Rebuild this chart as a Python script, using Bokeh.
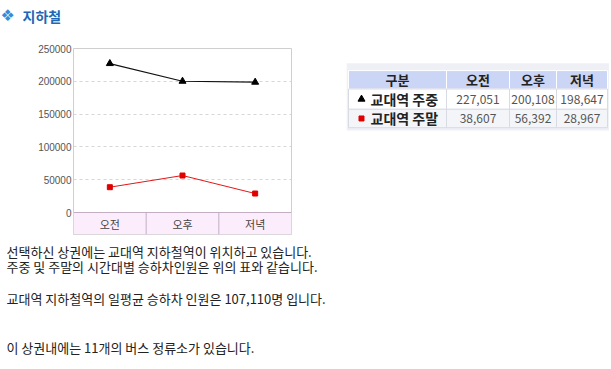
from bokeh.plotting import figure
from bokeh.layouts import column, row
from bokeh.models import Range1d, FixedTicker, BasicTickFormatter, Span
from bokeh.core.properties import value
from bokeh.embed import file_html
from bokeh.resources import INLINE

# ---- data ----
periods = ["오전", "오후", "저녁"]
weekday = [227051, 200108, 198647]
weekend = [38607, 56392, 28967]
series_names = ["교대역 주중", "교대역 주말"]
table_header = ["구분", "오전", "오후", "저녁"]
y_ticks = [0, 50000, 100000, 150000, 200000, 250000]
title_text = "지하철"
body_lines = [
    "선택하신 상권에는 교대역 지하철역이 위치하고 있습니다.",
    "주중 및 주말의 시간대별 승하차인원은 위의 표와 같습니다.",
    "교대역 지하철역의 일평균 승하차 인원은 107,110명 입니다.",
    "이 상권내에는 11개의 버스 정류소가 있습니다.",
]

FONT = "Noto Sans CJK KR"
BLACK_LINE = "#111111"
RED_LINE = "#e01818"
PAGE_W = 609


def canvas(w, h):
    f = figure(width=w, height=h, x_range=Range1d(0, w), y_range=Range1d(h, 0),
               x_axis_location=None, y_axis_location=None,
               output_backend="svg", toolbar_location=None, min_border=0)
    f.grid.visible = False
    f.outline_line_color = None
    return f


# ---- title ----
tf = canvas(PAGE_W, 38)
tf.text(x=[0], y=[15], text=["❖"], text_font=value("DejaVu Sans"), text_font_size="16px",
        text_color="#3a8ad6", text_baseline="middle", text_align="left")
tf.text(x=[22], y=[15], text=[title_text], text_font=value(FONT), text_font_size="14px",
        text_font_style="bold", text_color="#2366b4", text_baseline="middle", text_align="left")

# ---- chart ----
BAND = -33500
ch = figure(frame_width=218, frame_height=186, x_range=Range1d(0, len(periods)),
            y_range=Range1d(BAND, y_ticks[-1]), x_axis_location=None,
            min_border_left=73, min_border_right=55, min_border_top=10, min_border_bottom=6,
            output_backend="svg", toolbar_location=None)
ch.outline_line_color = "#cfcfcf"
ch.xgrid.visible = False
ch.ygrid.ticker = FixedTicker(ticks=y_ticks[1:-1])
ch.ygrid.grid_line_color = "#d6d6d6"
ch.ygrid.grid_line_dash = "3 3"
ya = ch.yaxis[0]
ya.ticker = FixedTicker(ticks=y_ticks)
ya.formatter = BasicTickFormatter(use_scientific=False)
ya.axis_line_color = None
ya.major_tick_line_color = None
ya.minor_tick_line_color = None
ya.major_tick_out = 0
ya.major_tick_in = 0
ya.major_label_standoff = 2
ya.major_label_text_font = "Liberation Sans"
ya.major_label_text_font_size = "10px"
ya.major_label_text_color = "#555555"

n = len(periods)
xs = [i + 0.5 for i in range(n)]
ch.quad(left=[0], right=[n], bottom=[BAND], top=[0], fill_color="#fcedfc", line_color=None)
ch.add_layout(Span(location=0, dimension="width", line_color="#c4adc4", line_width=1))
seps = list(range(1, n))
ch.segment(x0=seps, y0=[BAND] * len(seps), x1=seps, y1=[0] * len(seps),
           line_color="#c4adc4", line_width=1)
ch.text(x=xs, y=[BAND / 2] * n, text=periods, text_font=value(FONT), text_font_size="11px",
        text_color="#444444", text_align="center", text_baseline="middle")

ch.line(xs, weekday, line_color=BLACK_LINE, line_width=1.2)
ch.scatter(xs, weekday, marker="triangle", size=7, fill_color="#000000", line_color="#000000")
ch.line(xs, weekend, line_color=RED_LINE, line_width=1)
ch.scatter(xs, weekend, marker="square", size=5, fill_color="#e00000", line_color="#e00000")

# ---- table ----
TB_W = PAGE_W - 346
tb = canvas(TB_W, 202)
edges = [2, 100, 163, 210, 261]
rows_y = [(24, 44), (44, 66), (66, 86)]
tb.quad(left=[0], right=[TB_W], top=[16], bottom=[89], fill_color="#eef0f5", line_color=None)
lefts = edges[:-1]
rights = edges[1:]
centers = [(a + b) / 2 for a, b in zip(lefts, rights)]
# header
tb.quad(left=lefts, right=rights, top=[rows_y[0][0]] * 4, bottom=[rows_y[0][1]] * 4,
        fill_color="#cbd5f5", line_color="#ffffff", line_width=1)
tb.text(x=centers, y=[(rows_y[0][0] + rows_y[0][1]) / 2] * 4, text=table_header,
        text_font=value(FONT), text_font_size="13px", text_font_style="bold",
        text_color="#222222", text_align="center", text_baseline="middle")
row_fills = ["#ffffff", "#f4f5f8"]
series_vals = [weekday, weekend]
markers = [("triangle", "#000000", 7), ("square", "#e00000", 5)]
for r, (name, vals) in enumerate(zip(series_names, series_vals)):
    top, bot = rows_y[r + 1]
    cy = (top + bot) / 2
    tb.quad(left=lefts, right=rights, top=[top] * 4, bottom=[bot] * 4,
            fill_color=row_fills[r], line_color="#d8dbe3", line_width=1)
    mk, col, sz = markers[r]
    tb.scatter([15], [cy], marker=mk, size=sz, fill_color=col, line_color=col)
    tb.text(x=[24], y=[cy], text=[name], text_font=value(FONT), text_font_size="14px",
            text_font_style="bold", text_color="#222222", text_align="left", text_baseline="middle")
    tb.text(x=centers[1:], y=[cy] * 3, text=[f"{v:,}" for v in vals],
            text_font=value(FONT), text_font_size="12px", text_color="#555555",
            text_align="center", text_baseline="middle")

# ---- body text ----
bt = canvas(PAGE_W, 127)
line_y = [10.5, 25.5, 58, 106.5]
bt.text(x=[6] * len(body_lines), y=line_y, text=body_lines, text_font=value(FONT),
        text_font_size="13px", text_color="#222222", text_align="left", text_baseline="middle")

layout = column(tf, row(ch, tb), bt)
open("out.html", "w").write(file_html(layout, INLINE))
